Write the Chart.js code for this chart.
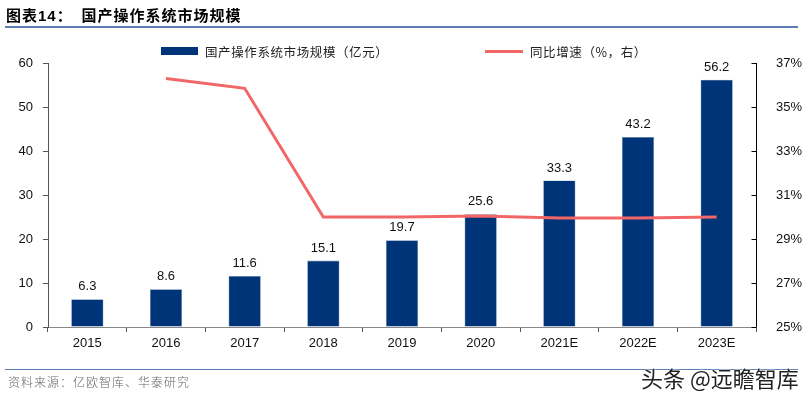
<!DOCTYPE html>
<html><head><meta charset="utf-8">
<script src="https://cdn.jsdelivr.net/npm/chart.js@4"></script>
<style>
html,body{margin:0;padding:0;background:#fff;}
#wrap{position:relative;width:807px;height:396px;overflow:hidden;font-family:"Liberation Sans",Arial,sans-serif;}
canvas{position:absolute;left:0;top:0;}
.abs{position:absolute;white-space:nowrap;}
#title{left:6px;top:4px;font-family:"Noto Sans CJK SC";font-weight:bold;font-size:15px;color:#000;letter-spacing:1px;}
#tline{left:5px;top:26px;width:793px;height:2px;background:#5b7fb5;}
#fline{left:5px;top:369px;width:793px;height:1px;background:#5b7fb5;}
#src{left:8px;top:373px;font-family:"Noto Sans CJK SC";font-size:12px;font-weight:300;color:#666;letter-spacing:1px;}
#wm{left:641px;top:361px;font-family:"Noto Sans CJK SC";font-size:22px;color:#222;text-shadow:0 0 2px #fff,0 0 2px #fff;}
.lg{font-family:"Noto Sans CJK SC";font-size:12.5px;color:#222;letter-spacing:0.6px;}
</style></head>
<body><div id="wrap">
<canvas id="c" width="807" height="396"></canvas>
<div id="title" class="abs">图表<span style="font-family:'Liberation Sans'">14</span>：&nbsp;&nbsp;国产操作系统市场规模</div>
<div id="tline" class="abs"></div>
<div class="abs" style="left:161px;top:47px;width:37px;height:8px;background:#003478"></div>
<div class="abs lg" style="left:205px;top:42px;">国产操作系统市场规模（亿元）</div>
<div class="abs" style="left:485px;top:50px;width:38px;height:3px;background:#f26668"></div>
<div class="abs lg" style="left:530px;top:42px;">同比增速（%，右）</div>
<div id="fline" class="abs"></div>
<div id="src" class="abs">资料来源：亿欧智库、华泰研究</div>
<div id="wm" class="abs">头条 @远瞻智库</div>
</div>
<script>
const categories = ["2015","2016","2017","2018","2019","2020","2021E","2022E","2023E"];
const marketSize = [6.3, 8.6, 11.6, 15.1, 19.7, 25.6, 33.3, 43.2, 56.2];
const growthPct = [null, 36.3, 35.85, 30.0, 30.0, 30.05, 29.95, 29.95, 30.0];
const leftTicks = [0,10,20,30,40,50,60];
const rightTicks = [25,27,29,31,33,35,37];

const NAVY = "#003478";
const RED = "#f26668";

const labelPlugin = {
  id: "labels",
  afterDatasetsDraw(chart) {
    const ctx = chart.ctx;
    const meta = chart.getDatasetMeta(0);
    ctx.save();
    ctx.font = "13px 'Liberation Sans', Arial";
    ctx.fillStyle = "#111";
    ctx.textAlign = "center";
    ctx.textBaseline = "bottom";
    meta.data.forEach((bar, i) => {
      ctx.fillText(marketSize[i].toFixed(1), bar.x, bar.y - 6);
    });
    ctx.restore();
  },
  afterDraw(chart) {
    const ctx = chart.ctx;
    const s = chart.scales.y1;
    const x = Math.round(s.left) + 0.5;
    ctx.save();
    ctx.strokeStyle = "#000";
    ctx.lineWidth = 1;
    ctx.beginPath();
    ctx.moveTo(x, s.top); ctx.lineTo(x, s.bottom);
    rightTicks.forEach(v => {
      const y = Math.round(s.getPixelForValue(v)) + 0.5;
      ctx.moveTo(x - 5, y); ctx.lineTo(x, y);
    });
    ctx.stroke();
    ctx.restore();
  }
};

new Chart(document.getElementById("c"), {
  data: {
    labels: categories,
    datasets: [
      { type: "bar", data: marketSize, backgroundColor: NAVY, borderColor: "#6f8fb8", borderWidth: 0.6,
        yAxisID: "y", order: 1, categoryPercentage: 1, barPercentage: 0.41 },
      { type: "line", data: growthPct, borderColor: RED, borderWidth: 3, pointRadius: 0,
        yAxisID: "y1", order: 0, tension: 0, spanGaps: false }
    ]
  },
  plugins: [labelPlugin],
  options: {
    responsive: false, animation: false, devicePixelRatio: 1,
    layout: { padding: { top: 63, left: 0, right: 0, bottom: 0 } },
    plugins: { legend: { display: false }, tooltip: { enabled: false } },
    scales: {
      x: {
        grid: { display: true, drawOnChartArea: false, drawTicks: true, tickLength: 5, color: "#555", offset: true },
        border: { display: true, color: "#888" },
        ticks: { color: "#111", font: { size: 13, family: "'Liberation Sans', Arial" }, padding: 4, maxRotation: 0 },
        afterFit(s) { s.height = 69; }
      },
      y: {
        position: "left", min: 0, max: 60,
        afterBuildTicks(s) { s.ticks = leftTicks.map(v => ({ value: v })); },
        grid: { display: true, drawOnChartArea: false, drawTicks: true, tickLength: 5, color: "#555" },
        border: { display: true, color: "#555" },
        ticks: { color: "#111", font: { size: 13, family: "'Liberation Sans', Arial" }, padding: 10 },
        afterFit(s) { s.width = 48; }
      },
      y1: {
        position: "right", min: 25, max: 37,
        afterBuildTicks(s) { s.ticks = rightTicks.map(v => ({ value: v })); },
        grid: { display: false, drawOnChartArea: false },
        border: { display: false },
        ticks: { color: "#111", font: { size: 13, family: "'Liberation Sans', Arial" }, padding: 12,
                 callback: v => v + "%" },
        afterFit(s) { s.width = 51; }
      }
    }
  }
});
</script>
</body></html>
